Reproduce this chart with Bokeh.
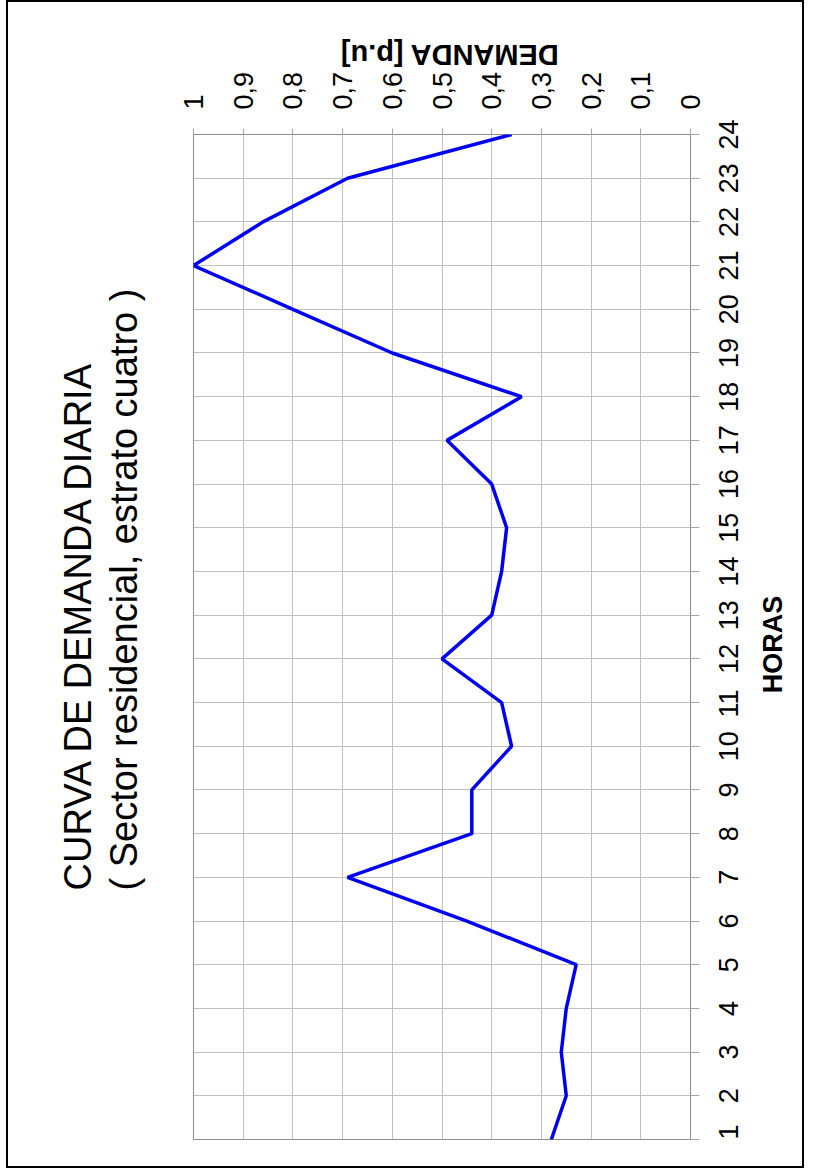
import math
from bokeh.plotting import figure
from bokeh.models import Range1d, FixedTicker, CustomJSTickFormatter, Title, LinearAxis
from bokeh.embed import file_html
from bokeh.resources import INLINE

# ---- data ----
horas = list(range(1, 25))
demanda = [0.28, 0.25, 0.26, 0.25, 0.23, 0.45, 0.69, 0.44, 0.44, 0.36, 0.38, 0.50,
           0.40, 0.38, 0.37, 0.40, 0.49, 0.34, 0.60, 0.80, 1.00, 0.86, 0.69, 0.36]
demanda_ticks = [0, 0.1, 0.2, 0.3, 0.4, 0.5, 0.6, 0.7, 0.8, 0.9, 1.0]
titulo = "CURVA DE DEMANDA DIARIA"
subtitulo = "( Sector residencial, estrato cuatro )"
eje_demanda = "DEMANDA [p.u]"
eje_horas = "HORAS"

FONT = "Liberation Sans"
HOUR_PX = 43.7          # pixel length of one hour on the vertical axis
DIGIT_PX = 15.0         # width of one digit at 27px

p = figure(width=798, height=1168, output_backend="svg", toolbar_location=None,
           x_range=Range1d(1, 0), y_range=Range1d(1, 24),
           x_axis_location="above", y_axis_location="right",
           min_border_left=185, min_border_right=110,
           min_border_top=132, min_border_bottom=31,
           margin=(0, 0, 0, 6))
p.styles = {"border": "2px solid #000000"}
p.background_fill_color = "white"
p.border_fill_color = "white"
p.outline_line_color = "#8c8c8c"
p.outline_line_width = 1

p.line(demanda, horas, line_color="#0000f0", line_width=3.5)


def style_ticks(ax, standoff, tick_out, size="27px", bold=False):
    ax.major_label_text_font = FONT
    ax.major_label_text_font_size = size
    ax.major_label_text_font_style = "bold" if bold else "normal"
    ax.major_label_text_color = "black"
    ax.major_label_standoff = standoff
    ax.major_tick_out = tick_out
    ax.major_tick_in = 0
    ax.minor_tick_out = 0
    ax.minor_tick_in = 0
    ax.major_tick_line_color = "#a6a6a6" if tick_out else None
    ax.axis_line_color = None


# top (demand) axis
xa = p.xaxis[0]
xa.ticker = FixedTicker(ticks=demanda_ticks)
xa.formatter = CustomJSTickFormatter(code="return (Math.round(tick*10)/10).toString().replace('.', ',');")
xa.major_label_orientation = math.pi / 2
style_ticks(xa, 19, 6)

# right (hours) axis: tick marks only
ya = p.yaxis[0]
ya.ticker = FixedTicker(ticks=horas)
style_ticks(ya, 0, 9, size="0px")
ya.formatter = CustomJSTickFormatter(code="return '';")

# hour labels: rotated text starts at its anchor, so the anchor is moved
# down by half the label length to centre each label on its hour
label_ticks = [max(1.0, h - (len(str(h)) * DIGIT_PX / 2) / HOUR_PX) for h in horas]
hl = LinearAxis(ticker=FixedTicker(ticks=label_ticks),
                formatter=CustomJSTickFormatter(code="return Math.round(tick + 0.3).toString();"))
hl.major_label_orientation = math.pi / 2
style_ticks(hl, 29, 0)
p.add_layout(hl, "right")


# axis titles drawn as a single label of an extra, otherwise empty axis
def title_axis(text, orient, anchor, size, standoff):
    ax = LinearAxis(ticker=FixedTicker(ticks=[anchor]),
                    formatter=CustomJSTickFormatter(code="return %r;" % text))
    ax.major_label_orientation = orient
    style_ticks(ax, standoff, 0, size, bold=True)
    return ax


p.add_layout(title_axis(eje_demanda, math.pi, 0.265, "29px", 14), "above")
p.add_layout(title_axis(eje_horas, math.pi / 2, 11.21, "27px", 23), "right")

for g in (p.xgrid[0], p.ygrid[0]):
    g.grid_line_color = "#c0c0c0"
    g.grid_line_width = 1

p.xgrid[0].ticker = FixedTicker(ticks=demanda_ticks)
p.ygrid[0].ticker = FixedTicker(ticks=horas)

# two-line rotated title on the left
p.add_layout(Title(text=titulo + "\n" + subtitulo, align="left", offset=249,
                   vertical_align="middle", standoff=85, padding=(0, 0, 0, 10),
                   text_font=FONT, text_font_size="38px", text_font_style="normal",
                   text_line_height=1.1, text_color="black"), "left")

open("out.html", "w").write(file_html(p, INLINE))
